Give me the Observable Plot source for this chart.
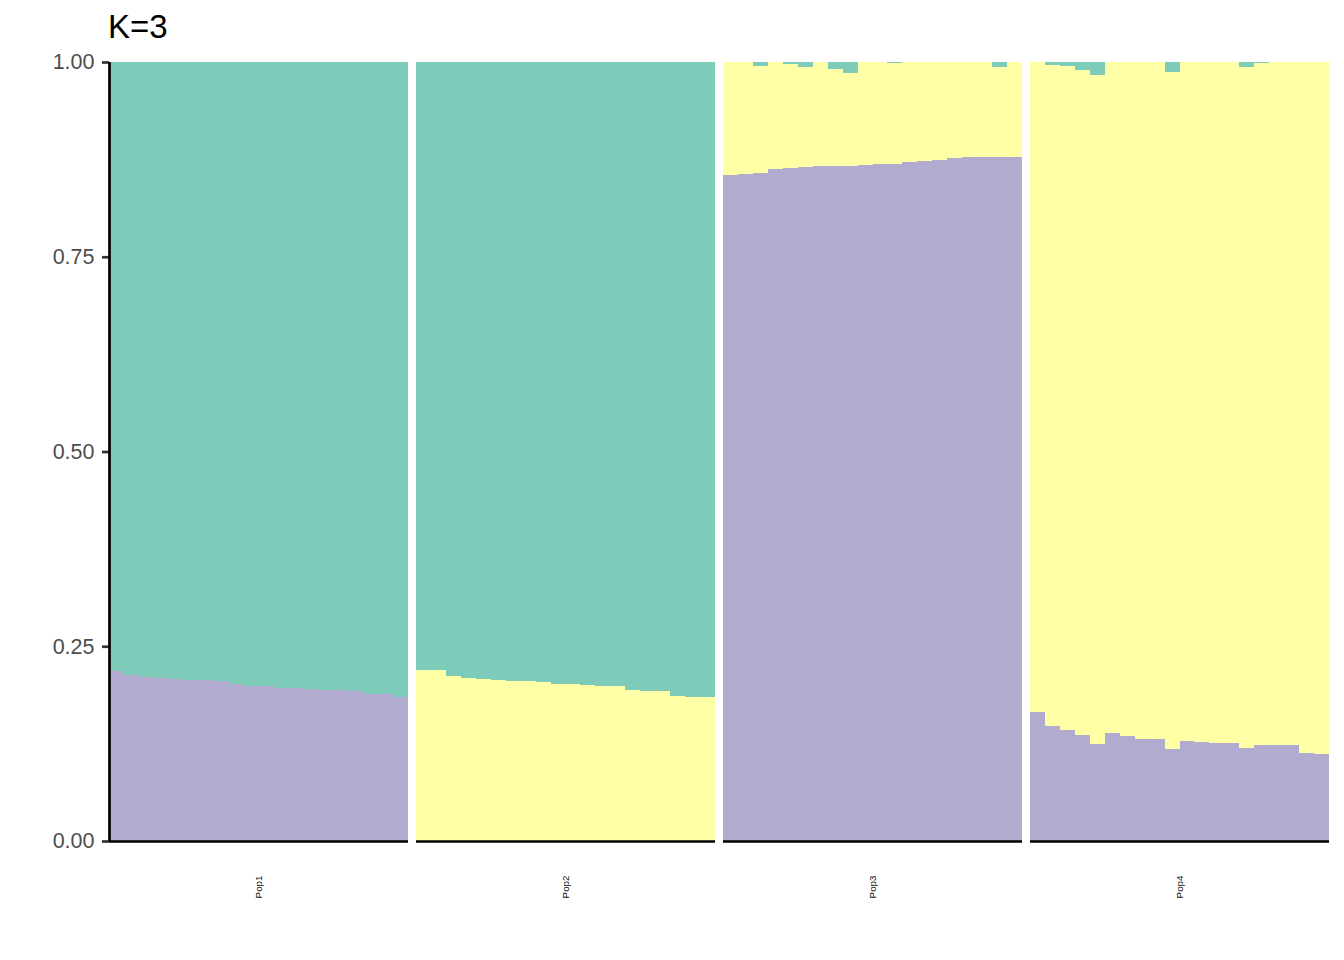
<!DOCTYPE html>
<html><head><meta charset="utf-8">
<script src="https://cdn.jsdelivr.net/npm/d3@7"></script>
<script src="https://cdn.jsdelivr.net/npm/@observablehq/plot@0.6"></script>
<style>
body{margin:0;background:#fff;}
#wrap{position:relative;width:1344px;height:960px;font-family:"Liberation Sans",Arial,sans-serif;}
#title{position:absolute;left:108px;top:10px;font-size:33px;line-height:1;color:#000;z-index:1;}
</style></head><body>
<div id="wrap"><div id="title">K=3</div></div>
<script>
const pops = ["Pop1", "Pop2", "Pop3", "Pop4"];
const clusters = ["K1", "K2", "K3"]; // stacking order bottom → top (purple, yellow, teal)
const clusterColors = ["#B1ABD0", "#FFFFA6", "#7FCBBA"];
const yTicks = [0, 0.25, 0.5, 0.75, 1];

// Admixture proportions per individual (20 per population)
const pop1K1 = [0.218,0.213,0.211,0.209,0.208,0.207,0.207,0.205,0.202,0.199,0.199,0.197,0.196,0.195,0.194,0.194,0.192,0.189,0.189,0.185];
const pop1K2 = [0,0,0,0,0,0,0,0,0,0,0,0,0,0,0,0,0,0,0,0];

const pop2K1 = [0,0,0,0,0,0,0,0,0,0,0,0,0,0,0,0,0,0,0,0];
const pop2K2 = [0.220,0.220,0.212,0.209,0.208,0.207,0.205,0.205,0.204,0.202,0.202,0.200,0.199,0.199,0.194,0.193,0.193,0.186,0.185,0.185];

const pop3K1 = [0.855,0.856,0.858,0.863,0.864,0.865,0.867,0.867,0.867,0.868,0.869,0.869,0.872,0.873,0.874,0.877,0.878,0.878,0.878,0.878];
const pop3K3 = [0,0,0.005,0,0.003,0.007,0,0.009,0.014,0,0,0.001,0,0,0,0,0,0,0.007,0];

const pop4K1 = [0.166,0.148,0.143,0.136,0.125,0.139,0.135,0.131,0.131,0.118,0.128,0.127,0.126,0.126,0.119,0.123,0.123,0.123,0.113,0.112];
const pop4K3 = [0,0.004,0.005,0.010,0.017,0,0,0,0,0.013,0,0,0,0,0.006,0.001,0,0,0,0];

// Build table: the remaining share of each individual goes to the unlisted cluster
const popData = {
  Pop1: {K1: pop1K1, K2: pop1K2, K3: null},
  Pop2: {K1: pop2K1, K2: pop2K2, K3: null},
  Pop3: {K1: pop3K1, K2: null, K3: pop3K3},
  Pop4: {K1: pop4K1, K2: null, K3: pop4K3}
};
const rows = [];
for (const pop of pops) {
  const d = popData[pop];
  const n = d.K1.length;
  for (let i = 0; i < n; i++) {
    const q = {};
    let missing = null, sum = 0;
    for (const k of clusters) {
      if (d[k]) { q[k] = d[k][i]; sum += q[k]; } else missing = k;
    }
    q[missing] = 1 - sum;
    let acc = 0;
    for (const k of clusters) {
      rows.push({pop, i0: i, i1: i + 1, cluster: k, y1: acc, y2: acc + q[k]});
      acc += q[k];
    }
  }
}

const chart = Plot.plot({
  width: 1344,
  height: 960,
  marginLeft: 108.5,
  marginRight: 14.7,
  marginTop: 62,
  marginBottom: 119,
  style: {fontFamily: '"Liberation Sans", Arial, sans-serif', background: "white"},
  fx: {domain: pops, paddingInner: 0.026, paddingOuter: 0, axis: null},
  x: {domain: [0, 20], axis: null},
  y: {domain: [0, 1], axis: null},
  color: {domain: clusters, range: clusterColors},
  marks: [
    Plot.rect(rows, {x1: "i0", x2: "i1", y1: "y1", y2: "y2", fill: "cluster", fx: "pop", shapeRendering: "crispEdges"}),
    Plot.axisY({anchor: "left", ticks: yTicks, tickFormat: d3.format(".2f"), tickSize: 7, tickPadding: 8,
      fontSize: 21.5, stroke: "#333333", strokeWidth: 2.7, fill: "#4D4D4D", label: null}),
    Plot.ruleY([0], {stroke: "black", strokeWidth: 2.7}),
    Plot.ruleX(pops.slice(0, 1), {fx: d => d, x: () => 0, y1: () => 0, y2: () => 1, stroke: "black", strokeWidth: 2.7}),
    Plot.text(pops, {fx: d => d, text: d => d, frameAnchor: "bottom", rotate: -90, textAnchor: "end",
      lineAnchor: "middle", dy: 34, fontSize: 9.8, fill: "#111"})
  ]
});
document.getElementById("wrap").appendChild(chart);
</script></body></html>
